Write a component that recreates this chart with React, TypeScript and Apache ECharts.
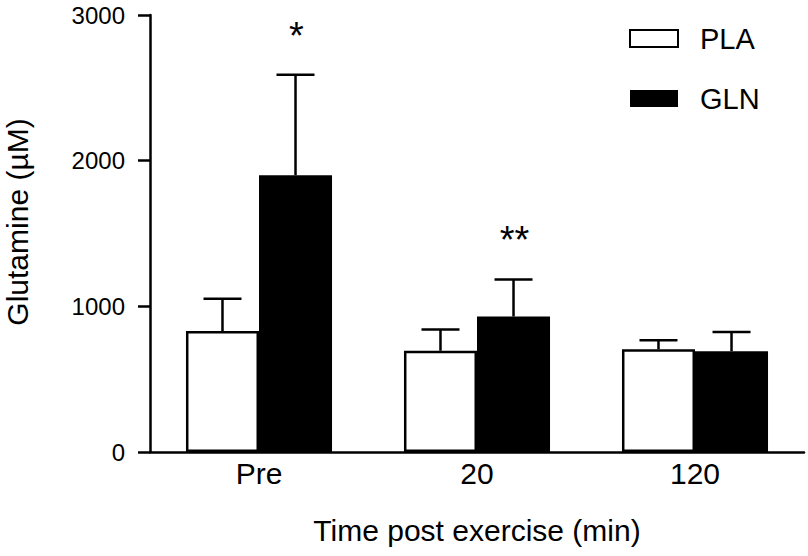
import React, { useEffect, useRef } from "react";
import * as echarts from "echarts";

const categories = ["Pre", "20", "120"];
const plaMean = [830, 695, 705];
const plaSem = [222, 146, 62];
const glnMean = [1900, 930, 692];
const glnSem = [690, 255, 132];
const glnMarks = ["*", "**", ""];
const yTicks = [0, 1000, 2000, 3000];
const seriesNames = ["PLA", "GLN"];

const FONT = "'Liberation Sans', Arial, Helvetica, sans-serif";
const BAR_RATIO = 0.335;

function errorSeries(means: number[], sems: number[], sign: number, marks: string[] | null) {
  return {
    type: "custom",
    z: 5,
    data: means.map((m, i) => [i, m, sems[i]]),
    encode: { x: 0, y: 1 },
    renderItem: (params: any, api: any) => {
      const idx = api.value(0);
      const mean = api.value(1);
      const sem = api.value(2);
      const mark = marks ? marks[idx] : "";
      const base = api.coord([idx, mean]);
      const top = api.coord([idx, mean + sem]);
      const bw = api.size([1, 0])[0] * BAR_RATIO;
      const x = base[0] + (sign * bw) / 2;
      const stroke = { stroke: "#000", lineWidth: 2.5 };
      const children: any[] = [
        { type: "line", shape: { x1: x, y1: base[1], x2: x, y2: top[1] }, style: stroke },
        { type: "line", shape: { x1: x - 19, y1: top[1], x2: x + 19, y2: top[1] }, style: stroke },
      ];
      if (mark) {
        children.push({
          type: "text",
          x: x + 1,
          y: top[1] - 39,
          style: {
            text: mark,
            fill: "#000",
            font: `38px ${FONT}`,
            align: "center",
            verticalAlign: "middle",
          },
        });
      }
      return { type: "group", children };
    },
    silent: true,
  };
}

export default function App() {
  const ref = useRef<HTMLDivElement>(null);
  useEffect(() => {
    if (!ref.current) return;
    const chart = echarts.init(ref.current, null, { renderer: "svg" });
    chart.setOption({
      animation: false,
      backgroundColor: "#fff",
      textStyle: { fontFamily: FONT },
      grid: { left: 150, right: 4, top: 15, bottom: 104, containLabel: false },
      legend: {
        data: seriesNames,
        orient: "vertical",
        left: 629,
        top: 24,
        padding: 0,
        itemWidth: 48,
        itemHeight: 17,
        itemGap: 31,
        icon: "rect",
        textStyle: { fontSize: 29, color: "#000", fontFamily: FONT, padding: [0, 0, 0, 17] },
        selectedMode: false,
      },
      xAxis: {
        type: "category",
        data: categories,
        axisLine: { lineStyle: { color: "#000", width: 2.5 } },
        axisTick: { show: false },
        axisLabel: { fontSize: 30, color: "#000", margin: 6, fontFamily: FONT },
        splitLine: { show: false },
      },
      yAxis: {
        type: "value",
        min: yTicks[0],
        max: yTicks[yTicks.length - 1],
        interval: 1000,
        axisLine: { show: true, lineStyle: { color: "#000", width: 2.5 } },
        axisTick: { show: true, length: 12, lineStyle: { color: "#000", width: 2.5 } },
        axisLabel: {
          fontSize: 24,
          color: "#000",
          margin: 25,
          fontFamily: FONT,
          formatter: (v: number) => String(v),
        },
        splitLine: { show: false },
      },
      graphic: [
        {
          type: "text",
          x: 17,
          y: 222,
          rotation: Math.PI / 2,
          style: {
            text: "Glutamine (µM)",
            font: `30px ${FONT}`,
            fill: "#000",
            align: "center",
            verticalAlign: "middle",
          },
        },
        {
          type: "text",
          x: 477,
          y: 530,
          style: {
            text: "Time post exercise (min)",
            font: `30px ${FONT}`,
            fill: "#000",
            align: "center",
            verticalAlign: "middle",
          },
        },
      ],
      series: [
        {
          name: seriesNames[0],
          type: "bar",
          data: plaMean,
          barWidth: "33.5%",
          barGap: "0%",
          itemStyle: { color: "#fff", borderColor: "#000", borderWidth: 2.5 },
        },
        {
          name: seriesNames[1],
          type: "bar",
          data: glnMean,
          barWidth: "33.5%",
          barGap: "0%",
          itemStyle: { color: "#000", borderColor: "#000", borderWidth: 0 },
        },
        errorSeries(plaMean, plaSem, -1, null),
        errorSeries(glnMean, glnSem, 1, glnMarks),
      ],
    });
    return () => chart.dispose();
  }, []);
  return <div ref={ref} style={{ width: 808, height: 556, position: "absolute", left: 0, top: 0 }} />;
}
